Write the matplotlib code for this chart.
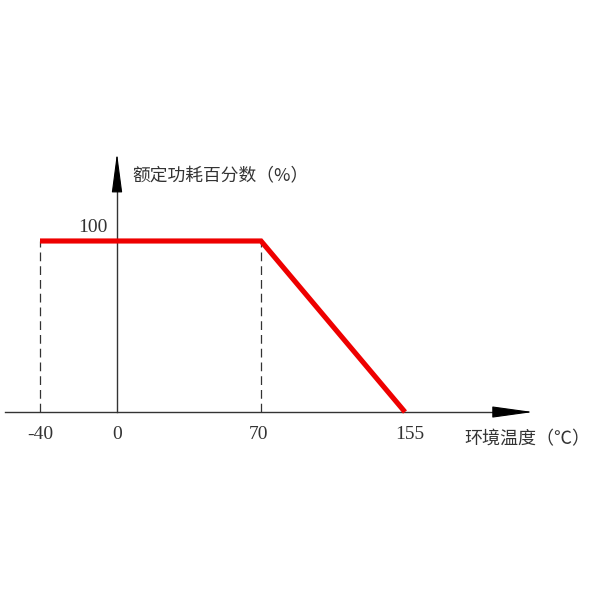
import numpy as np
import matplotlib.pyplot as plt

plt.rcParams['font.family'] = ['Noto Sans CJK SC', 'DejaVu Sans']

# 数据
temp = [-40, 70, 155]          # 环境温度 (℃)
power = [100, 100, 0]          # 额定功耗百分数 (%)
tick_vals = [-40, 0, 70, 155]
tick_labels = ['-40', '0', '70', '155']
tick_shift = [0, 0, -3, 5]     # 标注的微调 (像素)

# 示意图横轴不等距: 数据 -> 像素 的分段映射
knot_data = np.array([-100, -40, 0, 70, 155, 300])
knot_px = np.array([-75.5, 40, 117, 261, 405, 650])


def fwd(x):
    return np.interp(x, knot_data, knot_px)


def inv(p):
    return np.interp(p, knot_px, knot_data)


fig = plt.figure(figsize=(6, 6), dpi=100)
ax = fig.add_axes([0, 0, 1, 1])
ax.set_xscale('function', functions=(fwd, inv))
ax.set_xlim(inv(0), inv(600))
ax.set_ylim(-109.9, 240.9)
ax.axis('off')

axc = '#333333'
# 坐标轴 + 箭头
ax.plot([inv(5), inv(500)], [0, 0], color=axc, lw=1)
ax.annotate('', xy=(inv(533), 0), xytext=(inv(496), 0),
            arrowprops=dict(arrowstyle='-|>,head_length=2.6,head_width=0.36',
                            color='black', lw=0.8, shrinkA=0, shrinkB=0))
ax.plot([0, 0], [0, 130], color=axc, lw=1)
ax.annotate('', xy=(0, 151.5), xytext=(0, 131),
            arrowprops=dict(arrowstyle='-|>,head_length=2.5,head_width=0.33',
                            color='black', lw=0.8, shrinkA=0, shrinkB=0))

# 虚线
for t in [temp[0], temp[1]]:
    ax.plot([t, t], [0, 100], color=axc, lw=0.9, ls=(0, (7, 4)))

# 曲线
ax.plot(temp, power, color='#ee0000', lw=3.7, solid_capstyle='butt',
        solid_joinstyle='miter', zorder=5)

# 文字
num_font = dict(family='Liberation Serif', fontsize=14, color=axc)
for v, lab, dx in zip(tick_vals, tick_labels, tick_shift):
    ax.annotate(lab, (v, 0), xytext=(dx * 0.72, -22 * 0.72),
                textcoords='offset points', ha='center', va='center',
                **num_font)
ax.text(inv(108), 108, '100', ha='right', va='center', **num_font)
ax.text(inv(132), 138, '额定功耗百分数（%）', ha='left', va='center',
        fontsize=12.8, color=axc)
ax.text(inv(464), -16, '环境温度（℃）', ha='left', va='center',
        fontsize=13, color=axc)

fig.savefig('out.png', dpi=100)
